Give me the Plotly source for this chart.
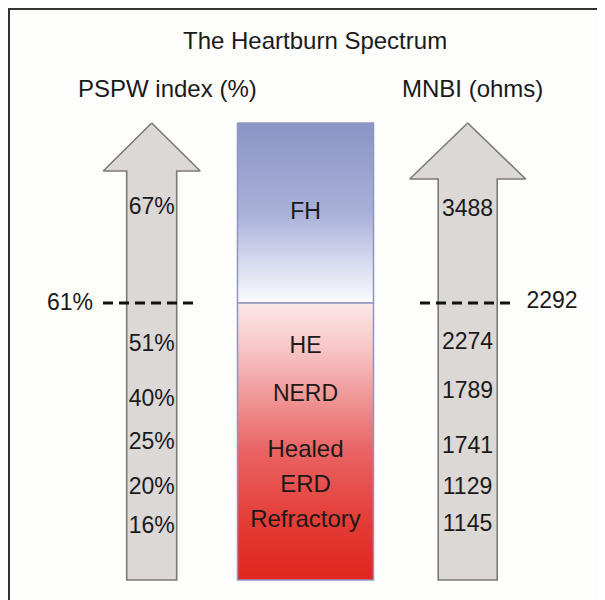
import plotly.graph_objects as go

# ---- data ----
title_text = "The Heartburn Spectrum"
left_axis_title = "PSPW index (%)"
right_axis_title = "MNBI (ohms)"
pspw_values = [67, 51, 40, 25, 20, 16]
mnbi_values = [3488, 2274, 1789, 1741, 1129, 1145]
pspw_threshold = 61
mnbi_threshold = 2292
categories = ["FH", "HE", "NERD", "Healed\nERD\nRefractory"]

# ---- layout geometry (page-pixel diagram coordinates) ----
PAGE_W, PAGE_H = 605, 600
OFF = 8  # page body margin
FONT = "Liberation Sans, Arial, sans-serif"
TXT = "#1a1a1a"
row_y_left = [208, 345, 400, 443, 488, 527]
row_y_right = [210, 343, 392, 447, 488, 525]
cat_y = [213, 347, 395, 451]
cat_line_gap = 35
thr_y = 303
rect = dict(x0=237.5, x1=373.5, y0=123, y1=580)

fig = go.Figure()

def arrow(cx, tip, head_base, half_head, half_shaft, bottom):
    xs = [cx, cx + half_head, cx + half_shaft, cx + half_shaft, cx - half_shaft,
          cx - half_shaft, cx - half_head, cx]
    ys = [tip, head_base, head_base, bottom, bottom, head_base, head_base, tip]
    fig.add_trace(go.Scatter(x=xs, y=ys, mode="lines", fill="toself",
                             fillcolor="#dcd8d6",
                             line=dict(color="#7a7a7a", width=1.6),
                             hoverinfo="skip", showlegend=False))

arrow(151.7, 123, 171, 48.5, 25, 580)
arrow(467.7, 123, 179, 58, 29.5, 580)

# central gradient bar: upper (blue) and lower (red)
fig.add_trace(go.Scatter(
    x=[rect["x0"], rect["x1"], rect["x1"], rect["x0"], rect["x0"]],
    y=[rect["y0"], rect["y0"], thr_y, thr_y, rect["y0"]],
    mode="lines", fill="toself",
    fillgradient=dict(type="vertical", start=thr_y, stop=rect["y0"],
                      colorscale=[[0, "#fbfbfe"], [0.25, "#d3d7ee"],
                                  [0.5, "#a9b0d8"], [1, "#8a95c6"]]),
    line=dict(color="#8e96c0", width=1.5), hoverinfo="skip", showlegend=False))
fig.add_trace(go.Scatter(
    x=[rect["x0"], rect["x1"], rect["x1"], rect["x0"], rect["x0"]],
    y=[thr_y, thr_y, rect["y1"], rect["y1"], thr_y],
    mode="lines", fill="toself",
    fillgradient=dict(type="vertical", start=rect["y1"], stop=thr_y,
                      colorscale=[[0, "#e0261f"], [0.2, "#e33b34"],
                                  [0.47, "#ea6464"], [0.65, "#f09494"],
                                  [0.83, "#f7c4c4"], [1, "#fde8e8"]]),
    line=dict(color="#8e96c0", width=1.5), hoverinfo="skip", showlegend=False))

# threshold dashed lines
for x0, x1 in [(103, 199), (420, 516)]:
    fig.add_trace(go.Scatter(x=[x0, x1], y=[thr_y, thr_y], mode="lines",
                             line=dict(color="#111111", width=3, dash="10px,6px"),
                             hoverinfo="skip", showlegend=False))

# value labels
fig.add_trace(go.Scatter(x=[151.7] * len(pspw_values), y=row_y_left, mode="text",
                         text=[f"{v}%" for v in pspw_values],
                         textfont=dict(family=FONT, size=23, color=TXT),
                         hoverinfo="skip", showlegend=False))
fig.add_trace(go.Scatter(x=[467.5] * len(mnbi_values), y=row_y_right, mode="text",
                         text=[str(v) for v in mnbi_values],
                         textfont=dict(family=FONT, size=23, color=TXT),
                         hoverinfo="skip", showlegend=False))

# category labels (multi-line ones drawn line by line)
cx, cy, ct, cs = [], [], [], []
for label, y0 in zip(categories, cat_y):
    lines = label.split("\n")
    for i, ln in enumerate(lines):
        cx.append(305.5)
        cy.append(y0 + i * cat_line_gap)
        ct.append(ln)
        cs.append(24 if len(lines) > 1 else 23)
fig.add_trace(go.Scatter(x=cx, y=cy, mode="text", text=ct,
                         textfont=dict(family=FONT, size=cs, color=TXT),
                         hoverinfo="skip", showlegend=False))

fig.add_trace(go.Scatter(x=[70, 552], y=[thr_y + 1, thr_y - 1], mode="text",
                         text=[f"{pspw_threshold}%", str(mnbi_threshold)],
                         textfont=dict(family=FONT, size=23, color=TXT),
                         hoverinfo="skip", showlegend=False))

# titles
annos = [
    dict(x=315, y=40, text=title_text, size=24),
    dict(x=167, y=88, text=left_axis_title, size=24),
    dict(x=472, y=88, text=right_axis_title, size=24),
]
for a in annos:
    fig.add_annotation(x=a["x"], y=a["y"], xref="x", yref="y", text=a["text"],
                       showarrow=False, xanchor="center", yanchor="middle",
                       font=dict(family=FONT, size=a["size"], color=TXT))

# frame (top and left edges)
fig.add_shape(type="line", x0=OFF, x1=PAGE_W, y0=9, y1=9, line=dict(color="#333333", width=2))
fig.add_shape(type="line", x0=9, x1=9, y0=OFF, y1=PAGE_H, line=dict(color="#333333", width=2))

fig.update_layout(
    width=PAGE_W - OFF, height=PAGE_H - OFF, margin=dict(l=0, r=0, t=0, b=0),
    paper_bgcolor="#fdfdfb", plot_bgcolor="#fdfdfb",
    xaxis=dict(range=[OFF, PAGE_W], visible=False, fixedrange=True),
    yaxis=dict(range=[PAGE_H, OFF], visible=False, fixedrange=True),
    showlegend=False,
)
fig.write_html("out.html")
